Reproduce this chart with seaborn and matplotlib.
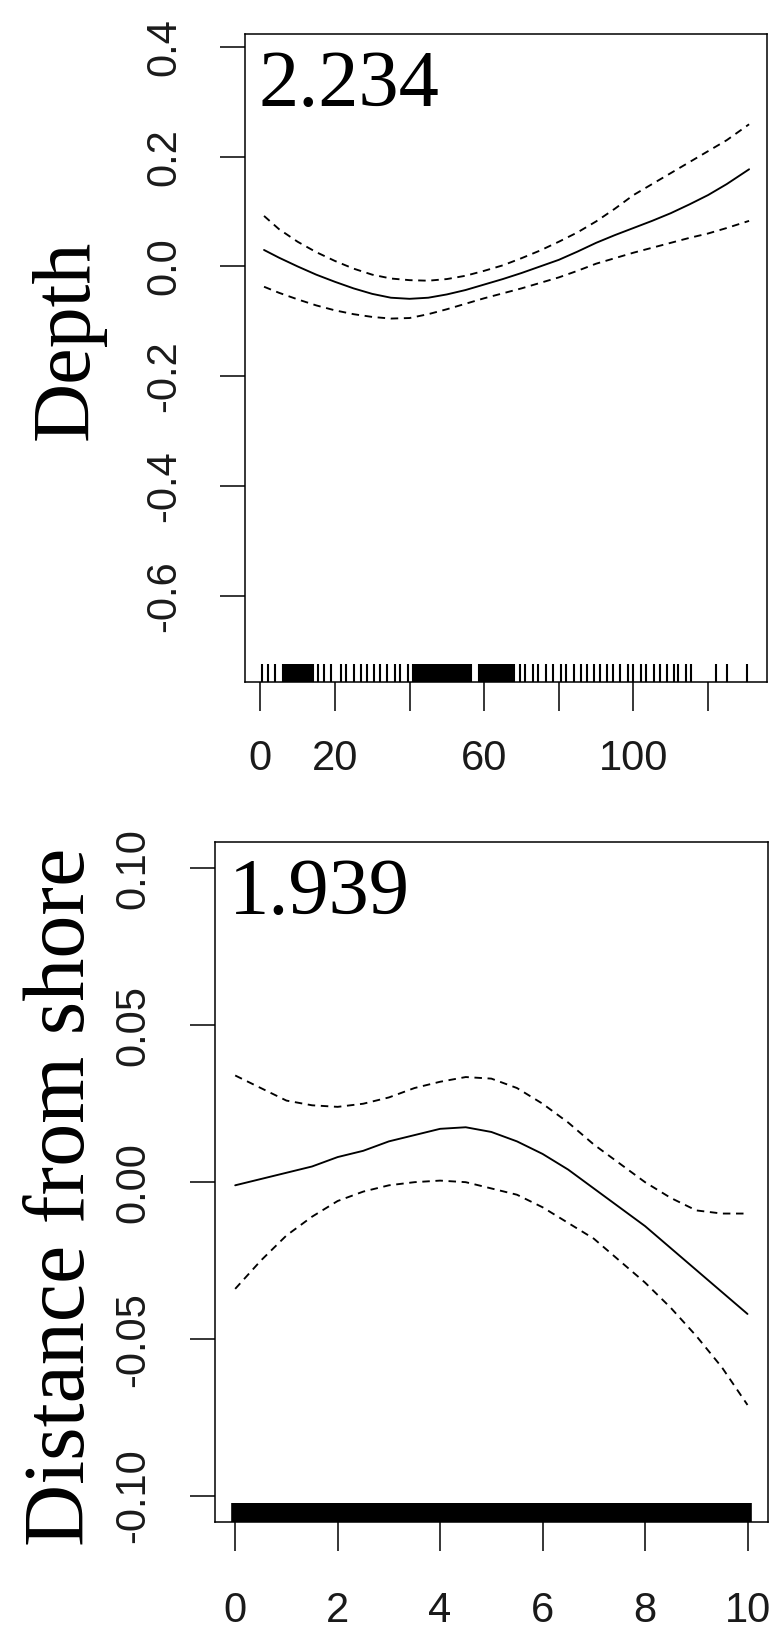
import matplotlib
matplotlib.use("Agg")
import matplotlib.pyplot as plt
import seaborn as sns
import pandas as pd

# ---------------- data: Depth panel ----------------
depth_x = [1, 5, 10, 15, 20, 25, 30, 35, 40, 45, 50, 55, 60, 65, 70, 75, 80, 85, 90, 95,
           100, 105, 110, 115, 120, 125, 131]
depth_fit = [0.030, 0.016, 0.000, -0.015, -0.028, -0.040, -0.050, -0.057, -0.059, -0.057,
             -0.051, -0.043, -0.033, -0.023, -0.012, 0.000, 0.012, 0.027, 0.043, 0.057,
             0.070, 0.083, 0.097, 0.113, 0.130, 0.150, 0.177]
depth_upper = [0.092, 0.068, 0.045, 0.026, 0.010, -0.004, -0.015, -0.022, -0.025, -0.026,
               -0.023, -0.017, -0.008, 0.002, 0.015, 0.029, 0.045, 0.062, 0.082, 0.105,
               0.130, 0.150, 0.170, 0.190, 0.210, 0.230, 0.259]
depth_lower = [-0.037, -0.048, -0.060, -0.071, -0.080, -0.087, -0.092, -0.095, -0.094, -0.087,
               -0.078, -0.068, -0.058, -0.049, -0.040, -0.030, -0.020, -0.008, 0.005, 0.015,
               0.025, 0.034, 0.043, 0.052, 0.060, 0.070, 0.083]
depth_rug = [0.5, 2, 4, 6, 6.5, 7, 7.5, 8, 8.5, 9, 9.5, 10, 10.5, 11, 11.5, 12, 12.5, 13, 13.5, 14,
             15.5, 17, 19, 21.5, 23, 25, 27, 28.5, 30.5, 32, 34, 36, 37.5, 39.5,
             41, 41.5, 42, 42.5, 43, 43.5, 44, 44.5, 45, 45.5, 46, 46.5, 47, 47.5, 48, 48.5,
             49, 49.5, 50, 50.5, 51, 51.5, 52, 52.5, 53, 53.5, 54, 54.5, 55, 55.5, 56, 56.5,
             58.5, 59, 59.5, 60, 60.5, 61, 61.5, 62, 62.5, 63, 63.5, 64, 64.5, 65, 65.5, 66,
             66.5, 67, 67.5, 68, 69.5, 71, 73, 74.5, 76.5, 78.5, 80.5, 82, 84, 86, 87.5, 89.5,
             91, 93, 94.5, 96.5, 98.5, 100, 102, 103.5, 105.5, 107, 109, 111, 112, 114, 115.5,
             122, 125, 130.5]
depth_xticks = [0, 20, 40, 60, 80, 100, 120]
depth_xticklabels = ["0", "20", "", "60", "", "100", ""]
depth_yticks = [0.4, 0.2, 0.0, -0.2, -0.4, -0.6]
depth_yticklabels = ["0.4", "0.2", "0.0", "-0.2", "-0.4", "-0.6"]
depth_label = "Depth"
depth_edf = "2.234"

# ---------------- data: Distance from shore panel ----------------
shore_x = [0, 0.5, 1, 1.5, 2, 2.5, 3, 3.5, 4, 4.5, 5, 5.5, 6, 6.5, 7, 7.5, 8, 8.5, 9, 9.5, 10]
shore_fit = [-0.001, 0.001, 0.003, 0.005, 0.008, 0.010, 0.013, 0.015, 0.017, 0.0175, 0.016,
             0.013, 0.009, 0.004, -0.002, -0.008, -0.014, -0.021, -0.028, -0.035, -0.042]
shore_upper = [0.034, 0.030, 0.026, 0.0245, 0.024, 0.025, 0.027, 0.030, 0.032, 0.0335, 0.033,
               0.030, 0.025, 0.019, 0.012, 0.006, 0.000, -0.005, -0.009, -0.010, -0.010]
shore_lower = [-0.034, -0.025, -0.017, -0.011, -0.006, -0.003, -0.001, 0.000, 0.0005, 0.000,
               -0.002, -0.004, -0.008, -0.013, -0.018, -0.025, -0.032, -0.040, -0.049, -0.059,
               -0.071]
shore_rug = [0.0, 0.1, 0.2, 0.3, 0.4, 0.5, 0.6, 0.7, 0.8, 0.9, 1.0, 1.1, 1.2, 1.3, 1.4, 1.5, 1.6,
             1.7, 1.8, 1.9, 2.0, 2.1, 2.2, 2.3, 2.4, 2.5, 2.6, 2.7, 2.8, 2.9, 3.0, 3.1, 3.2, 3.3,
             3.4, 3.5, 3.6, 3.7, 3.8, 3.9, 4.0, 4.1, 4.2, 4.3, 4.4, 4.5, 4.6, 4.7, 4.8, 4.9, 5.0,
             5.1, 5.2, 5.3, 5.4, 5.5, 5.6, 5.7, 5.8, 5.9, 6.0, 6.1, 6.2, 6.3, 6.4, 6.5, 6.6, 6.7,
             6.8, 6.9, 7.0, 7.1, 7.2, 7.3, 7.4, 7.5, 7.6, 7.7, 7.8, 7.9, 8.0, 8.1, 8.2, 8.3, 8.4,
             8.5, 8.6, 8.7, 8.8, 8.9, 9.0, 9.1, 9.2, 9.3, 9.4, 9.5, 9.6, 9.7, 9.8, 9.9, 10.0]
shore_xticks = [0, 2, 4, 6, 8, 10]
shore_xticklabels = ["0", "2", "4", "6", "8", "10"]
shore_yticks = [0.10, 0.05, 0.00, -0.05, -0.10]
shore_yticklabels = ["0.10", "0.05", "0.00", "-0.05", "-0.10"]
shore_label = "Distance from shore"
shore_edf = "1.939"

# ---------------- style ----------------
sns.set_theme(style="ticks")
plt.rcParams['font.family'] = ['Liberation Sans', 'DejaVu Sans']
plt.rcParams['axes.edgecolor'] = 'black'
plt.rcParams['axes.linewidth'] = 1.1

W, H = 773, 1637
fig = plt.figure(figsize=(W / 100, H / 100), dpi=100)
fig.patch.set_facecolor('white')

ax1 = fig.add_axes([245 / W, 1 - 681.7 / H, 522 / W, 648.2 / H])
ax2 = fig.add_axes([214.7 / W, 1 - 1521.7 / H, 553.3 / W, 680 / H])

SERIF = ['Liberation Serif', 'DejaVu Serif']


def panel(ax, x, fit, up, lo, rug, rug_lw, xlim, ylim, xticks, xticklabels,
          yticks, yticklabels, edf, xpad):
    df = pd.DataFrame({'x': x, 'fit': fit, 'upper': up, 'lower': lo})
    sns.lineplot(data=df, x='x', y='fit', ax=ax, color='black', linewidth=1.35)
    sns.lineplot(data=df, x='x', y='upper', ax=ax, color='black', linewidth=1.35,
                 linestyle=(0, (4, 3)))
    sns.lineplot(data=df, x='x', y='lower', ax=ax, color='black', linewidth=1.35,
                 linestyle=(0, (4, 3)))
    sns.rugplot(x=rug, ax=ax, height=0.027, color='black', linewidth=rug_lw,
                expand_margins=False)
    ax.set_xlim(*xlim)
    ax.set_ylim(*ylim)
    ax.set_facecolor('white')
    ax.set_xticks(xticks)
    ax.set_xticklabels(xticklabels)
    ax.set_yticks(yticks)
    ax.set_yticklabels(yticklabels, rotation=90, va='center')
    ax.set_xlabel('')
    ax.set_ylabel('')
    for s in ax.spines.values():
        s.set_visible(True)
        s.set_color('black')
        s.set_linewidth(1.1)
    ax.tick_params(axis='x', direction='out', length=21, width=1.1, pad=xpad,
                   labelsize=30, color='black', labelcolor='#1a1a1a')
    ax.tick_params(axis='y', direction='out', length=18, width=1.1, pad=26,
                   labelsize=30, color='black', labelcolor='#1a1a1a')
    ax.annotate(edf, xy=(0, 1), xycoords='axes fraction', xytext=(10, -52),
                textcoords='offset points', ha='left', va='baseline',
                fontsize=58, family=SERIF, color='black')


panel(ax1, depth_x, depth_fit, depth_upper, depth_lower, depth_rug, 1.5,
      (-4.1, 135.8), (-0.7566, 0.4244), depth_xticks, depth_xticklabels,
      depth_yticks, depth_yticklabels, depth_edf, 20)
panel(ax2, shore_x, shore_fit, shore_upper, shore_lower, shore_rug, 5.5,
      (-0.4, 10.4), (-0.1082, 0.1085), shore_xticks, shore_xticklabels,
      shore_yticks, shore_yticklabels, shore_edf, 29)

fig.text(88 / W, 1 - 340 / H, depth_label, rotation=90, rotation_mode='anchor',
         ha='center', va='baseline', fontsize=59, family=SERIF, color='black')
fig.text(84 / W, 1 - 1197 / H, shore_label, rotation=90, rotation_mode='anchor',
         ha='center', va='baseline', fontsize=62, family=SERIF, color='black')

fig.savefig('out.png', dpi=100, facecolor='white')
